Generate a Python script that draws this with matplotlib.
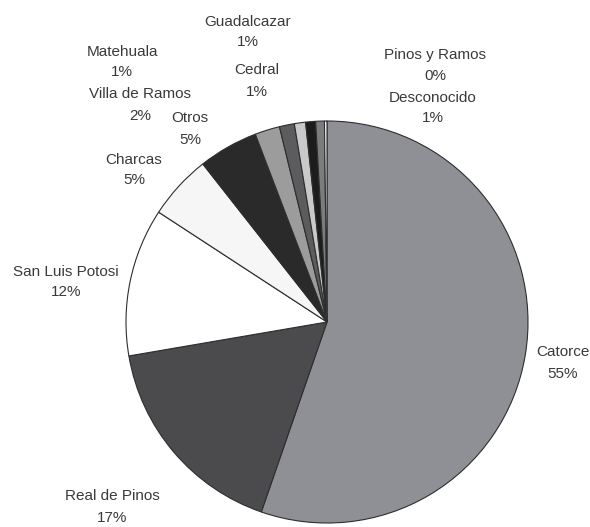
import matplotlib
matplotlib.use("Agg")
import matplotlib.pyplot as plt

# Data
categories = ["Catorce", "Real de Pinos", "San Luis Potosi", "Charcas", "Otros",
              "Villa de Ramos", "Matehuala", "Guadalcazar", "Cedral",
              "Desconocido", "Pinos y Ramos"]
values = [55.3, 17.0, 11.9, 5.2, 4.8, 2.0, 1.2, 0.9, 0.8, 0.7, 0.2]

# Styles
colors = ["#8e9095", "#4b4b4d", "#ffffff", "#f6f6f6", "#2a2a2a",
          "#9c9c9c", "#5c5c5e", "#c9c9c9", "#1c1c1c", "#7c7c7e", "#ffffff"]
# label block centres in image pixel coordinates (x, y from top)
label_pos = [(563, 363), (112, 507), (66, 282), (134, 170), (190, 129),
             (140, 105), (122, 62), (248, 32), (257, 81), (433, 108), (435, 65)]
half_gap = 10.5

W, H = 590, 527
fig = plt.figure(figsize=(W / 100, H / 100), dpi=100)
ax = fig.add_axes([0, 0, 1, 1])

total = sum(values)
ax.pie(values, colors=colors, startangle=90, counterclock=False,
       center=(327, H - 322), radius=201,
       wedgeprops=dict(edgecolor="#2e2e2e", linewidth=0.8))

style = dict(ha="center", va="center", fontsize=11,
             family="Liberation Sans", color="#3a3a3a")
for cat, v, (x, y) in zip(categories, values, label_pos):
    pct = round(100 * v / total)
    ax.text(x, H - (y - half_gap), cat, **style)
    ax.text(x, H - (y + half_gap), f"{pct}%", **style)

ax.set_xlim(0, W)
ax.set_ylim(0, H)
ax.set_aspect("equal")
ax.axis("off")
fig.savefig("out.png", dpi=100, facecolor="white")
